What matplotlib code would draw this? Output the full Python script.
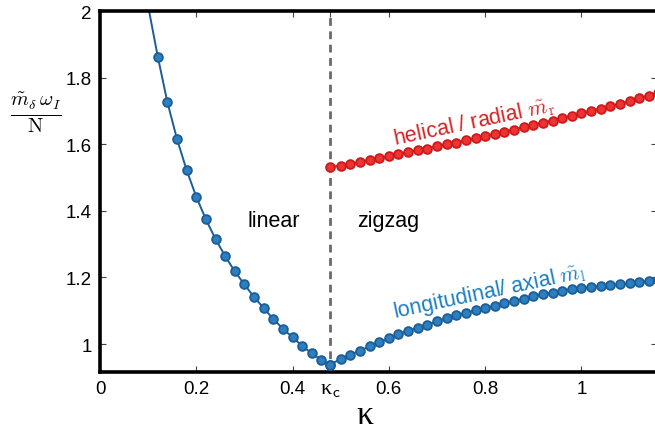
import numpy as np
import matplotlib
matplotlib.use("Agg")
import matplotlib.pyplot as plt

plt.rcParams['font.family'] = ['Liberation Sans', 'DejaVu Sans']
plt.rcParams['mathtext.fontset'] = 'cm'

kappa_c = 0.4775

# linear phase (left branch)
x_lin = [0.12, 0.14, 0.16, 0.18, 0.20, 0.22, 0.24, 0.26, 0.28, 0.30,
         0.32, 0.34, 0.36, 0.38, 0.40, 0.42, 0.44, 0.46, kappa_c]
y_lin = [1.863, 1.726, 1.615, 1.522, 1.442, 1.374, 1.315, 1.264, 1.218, 1.179,
         1.141, 1.108, 1.075, 1.046, 1.020, 0.994, 0.972, 0.952, 0.938]
# line continues above the top of the frame
x_lin_start = [0.098]
y_lin_start = [2.03]

# zigzag phase, longitudinal / axial
x_ax = [kappa_c, 0.50, 0.52, 0.54, 0.56, 0.58, 0.60, 0.62, 0.64, 0.66, 0.68,
        0.70, 0.72, 0.74, 0.76, 0.78, 0.80, 0.82, 0.84, 0.86, 0.88,
        0.90, 0.92, 0.94, 0.96, 0.98, 1.00, 1.02, 1.04, 1.06, 1.08,
        1.10, 1.12, 1.14, 1.16]
y_ax = [0.938, 0.955, 0.968, 0.980, 0.993, 1.005, 1.017, 1.030, 1.040, 1.049, 1.058,
        1.068, 1.077, 1.086, 1.093, 1.101, 1.108, 1.115, 1.123, 1.129, 1.136,
        1.144, 1.150, 1.154, 1.160, 1.165, 1.168, 1.171, 1.174, 1.176, 1.180,
        1.182, 1.185, 1.190, 1.193]

# zigzag phase, helical / radial
x_rad = [kappa_c, 0.50, 0.52, 0.54, 0.56, 0.58, 0.60, 0.62, 0.64, 0.66, 0.68,
         0.70, 0.72, 0.74, 0.76, 0.78, 0.80, 0.82, 0.84, 0.86, 0.88,
         0.90, 0.92, 0.94, 0.96, 0.98, 1.00, 1.02, 1.04, 1.06, 1.08,
         1.10, 1.12, 1.14, 1.16]
y_rad = [1.532, 1.535, 1.540, 1.547, 1.553, 1.558, 1.564, 1.570, 1.576, 1.582, 1.587,
         1.594, 1.600, 1.605, 1.612, 1.618, 1.625, 1.631, 1.638, 1.644, 1.651,
         1.658, 1.665, 1.671, 1.679, 1.686, 1.693, 1.700, 1.707, 1.714, 1.721,
         1.729, 1.738, 1.746, 1.753]

xticks = [0, 0.2, 0.4, kappa_c, 0.6, 0.8, 1.0]
xtick_labels = ['0', '0.2', '0.4', 'κ$_\\mathsf{c}$', '0.6', '0.8', '1']
yticks = [1.0, 1.2, 1.4, 1.6, 1.8, 2.0]
ytick_labels = ['1', '1.2', '1.4', '1.6', '1.8', '2']

blue_line = '#1b5d96'
blue_face = '#2e7fc0'
blue_text = '#1a7dbf'
red_line = '#d01818'
red_face = '#ec3434'
red_text = '#d42222'

fig = plt.figure(figsize=(6.55, 4.31), dpi=100)
ax = fig.add_axes([100 / 655, 1 - 373 / 431, 557 / 655, 361 / 431])

ax.axvline(kappa_c, color='#6a6a6a', lw=2, ls=(0, (2.8, 2.0)), zorder=1)

ax.plot(x_lin_start + x_lin, y_lin_start + y_lin, color=blue_line, lw=1.4, zorder=2)
ax.plot(x_lin, y_lin, 'o', ms=6.3, mfc=blue_face, mec=blue_line, mew=1.3, zorder=3)
ax.plot(x_ax, y_ax, '-o', color=blue_line, lw=1.4, ms=6.3, mfc=blue_face, mec=blue_line,
        mew=1.3, zorder=3)
ax.plot(x_rad, y_rad, '-o', color=red_line, lw=1.4, ms=6.3, mfc=red_face, mec=red_line,
        mew=1.3, zorder=3)

ax.text(0.36, 1.372, 'linear', fontsize=15.5, ha='center', va='center')
ax.text(0.598, 1.372, 'zigzag', fontsize=15.5, ha='center', va='center')
ax.text(0.778, 1.668, r'helical / radial $\tilde{m}_\mathrm{r}$', color=red_text,
        fontsize=15.5, ha='center', va='center', rotation=12, rotation_mode='anchor')
ax.text(0.81, 1.158, r'longitudinal/ axial $\tilde{m}_\mathrm{l}$', color=blue_text,
        fontsize=15.5, ha='center', va='center', rotation=12, rotation_mode='anchor')

ax.set_xlim(0, 1.157)
ax.set_ylim(0.916, 2.0)
ax.set_xticks(xticks)
ax.set_xticklabels(xtick_labels)
ax.set_yticks(yticks)
ax.set_yticklabels(ytick_labels)
ax.tick_params(direction='in', top=True, right=True, length=4, width=0.8,
               color='#444444', labelsize=13.5, pad=6)
kc_label = ax.get_xticklabels()[3]
kc_label.set_fontsize(16)
kc_label.set_family(['Liberation Serif', 'DejaVu Serif'])

ax.set_xlabel('κ', fontsize=24, family=['Liberation Serif', 'DejaVu Serif'])
ax.xaxis.set_label_coords(0.476, -0.075)
ax.set_ylabel(r'$\frac{\tilde{m}_\delta\,\omega_I}{\mathrm{N}}$', fontsize=21,
              rotation=0, ha='center', va='center')
ax.yaxis.set_label_coords(-0.116, 0.72)

for side in ['left', 'bottom', 'top', 'right']:
    ax.spines[side].set_linewidth(2.6)

plt.savefig('out.png', dpi=100)
